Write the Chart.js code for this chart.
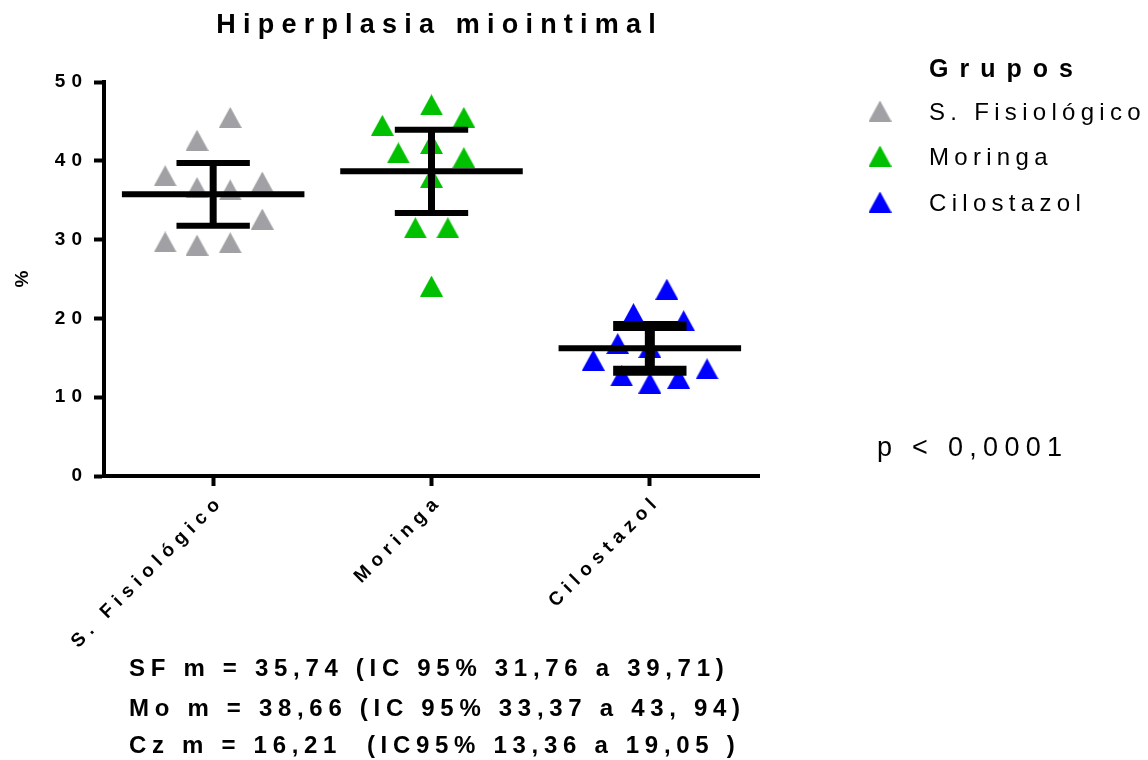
<!DOCTYPE html>
<html>
<head>
<meta charset="utf-8">
<script src="https://cdn.jsdelivr.net/npm/chart.js@4.4.1/dist/chart.umd.min.js"></script>
<style>
  body { margin: 0; background: #fff; }
  #wrap { width: 1148px; height: 760px; position: relative; }
</style>
</head>
<body>
<div id="wrap"><canvas id="hiperplasiaChart"></canvas></div>
<script>
const categories = ['S. Fisiológico', 'Moringa', 'Cilostazol'];

// horizontal jitter (in group widths) and value for each triangle
const sfOffsets = [0.078, -0.074, -0.22, -0.074, 0.078, 0.225, 0.225, -0.22, -0.074, 0.078];
const sfValues = [45.5, 42.6, 38.1, 36.6, 36.3, 37.3, 32.6, 29.7, 29.3, 29.6];
const moOffsets = [0, -0.225, 0.148, 0, -0.152, 0.148, 0, -0.074, 0.075, 0];
const moValues = [47.1, 44.5, 45.5, 42.2, 41.0, 40.4, 37.9, 31.5, 31.5, 24.1];
const czOffsets = [0.078, -0.075, 0.155, -0.147, 0, -0.259, -0.129, 0, 0.132, 0.262];
const czValues = [23.7, 20.6, 19.7, 16.8, 16.3, 14.7, 12.7, 11.8, 12.4, 13.6];

const means = [35.74, 38.66, 16.21];
const ciLow = [31.76, 33.37, 13.36];
const ciHigh = [39.71, 43.94, 19.05];

const yTicks = [0, 10, 20, 30, 40, 50];
const statLines = [
  'SF m = 35,74 (IC 95% 31,76 a 39,71)',
  'Mo m = 38,66 (IC 95% 33,37 a 43, 94)',
  'Cz m = 16,21  (IC95% 13,36 a 19,05 )'
];
const pText = 'p < 0,0001';

const FONT = "'Liberation Sans', Arial, sans-serif";
const colors = ['#a1a1a5', '#00c000', '#0000ff'];
const capWidths = [6, 6, 10];
const stemWidths = [7, 7, 10];

function makeTriangle(color) {
  const c = document.createElement('canvas');
  c.width = 23;
  c.height = 21;
  const g = c.getContext('2d');
  g.fillStyle = color;
  g.beginPath();
  g.moveTo(11.5, 0);
  g.lineTo(23, 21);
  g.lineTo(0, 21);
  g.closePath();
  g.fill();
  return c;
}
const triangles = colors.map(makeTriangle);

const groups = [
  { offsets: sfOffsets, values: sfValues },
  { offsets: moOffsets, values: moValues },
  { offsets: czOffsets, values: czValues }
];

const datasets = [];

// mean line + 95% CI bars, drawn on top of the points
groups.forEach((grp, i) => {
  const seg = (pts, w) => datasets.push({
    type: 'line', data: pts, borderColor: '#000', borderWidth: w,
    pointRadius: 0, borderCapStyle: 'butt', fill: false, order: 0, clip: false
  });
  seg([{ x: i - 0.418, y: means[i] }, { x: i + 0.418, y: means[i] }], 6);
  seg([{ x: i, y: ciLow[i] }, { x: i, y: ciHigh[i] }], stemWidths[i]);
  seg([{ x: i - 0.168, y: ciLow[i] }, { x: i + 0.168, y: ciLow[i] }], capWidths[i]);
  seg([{ x: i - 0.168, y: ciHigh[i] }, { x: i + 0.168, y: ciHigh[i] }], capWidths[i]);
});

groups.forEach((grp, i) => {
  datasets.push({
    type: 'scatter',
    label: categories[i],
    data: grp.values.map((v, k) => ({ x: i + grp.offsets[k], y: v })),
    pointStyle: triangles[i],
    pointRadius: 11,
    backgroundColor: colors[i],
    order: 1,
    clip: false
  });
});

function spacedText(ctx, text, x, y, spacing, align) {
  ctx.textAlign = 'left';
  if ('letterSpacing' in ctx) {
    ctx.letterSpacing = spacing + 'px';
    const w = ctx.measureText(text).width - spacing;
    const sx = align === 'center' ? x - w / 2 : align === 'right' ? x - w : x;
    ctx.fillText(text, sx, y);
    ctx.letterSpacing = '0px';
  } else {
    let w = 0;
    for (const ch of text) w += ctx.measureText(ch).width + spacing;
    w -= spacing;
    let sx = align === 'center' ? x - w / 2 : align === 'right' ? x - w : x;
    for (const ch of text) {
      ctx.fillText(ch, sx, y);
      sx += ctx.measureText(ch).width + spacing;
    }
  }
}

// tick labels of the reference are letter-spaced, so wrap each scale's label drawing
function spacedLabels(spacing) {
  return s => {
    if (s._spaced) return;
    const orig = s.drawLabels.bind(s);
    s.drawLabels = area => {
      s.ctx.save();
      s.ctx.letterSpacing = spacing + 'px';
      orig(area);
      s.ctx.restore();
    };
    s._spaced = true;
  };
}

const textPlugin = {
  id: 'extraText',
  afterDraw(chart) {
    const ctx = chart.ctx;
    ctx.save();
    ctx.fillStyle = '#000';
    ctx.textBaseline = 'middle';

    // title
    ctx.font = 'bold 27px ' + FONT;
    spacedText(ctx, 'Hiperplasia miointimal', 436, 26, 7.2, 'center');

    // legend
    ctx.font = 'bold 25px ' + FONT;
    spacedText(ctx, 'Grupos', 929, 70, 11, 'left');
    ctx.font = '24px ' + FONT;
    const rows = [111, 156, 202];
    categories.forEach((name, i) => {
      ctx.drawImage(triangles[i], 880 - 11.5, rows[i] - 10.5);
      spacedText(ctx, name, 929, rows[i] + 2, 5.3, 'left');
    });

    // p value
    ctx.font = '27px ' + FONT;
    spacedText(ctx, pText, 877, 449, 6.3, 'left');

    // summary lines
    ctx.font = 'bold 24px ' + FONT;
    const ys = [669, 709, 746];
    statLines.forEach((t, i) => spacedText(ctx, t, 129, ys[i], 5.7, 'left'));
    ctx.restore();
  }
};

const ctx = document.getElementById('hiperplasiaChart').getContext('2d');
new Chart(ctx, {
  data: { datasets: datasets },
  options: {
    responsive: true,
    maintainAspectRatio: false,
    animation: false,
    layout: { padding: { top: 82, right: 389, bottom: 0, left: 0 } },
    plugins: {
      legend: { display: false },
      title: { display: false },
      tooltip: { enabled: false }
    },
    scales: {
      x: {
        type: 'linear',
        min: -0.5,
        max: 2.5,
        afterBuildTicks: s => { s.ticks = categories.map((_, i) => ({ value: i })); },
        afterFit: s => { s.height = 284; },
        afterUpdate: spacedLabels(6),
        grid: { drawOnChartArea: false, tickLength: 10, tickWidth: 4, tickColor: '#000' },
        border: { display: true, color: '#000', width: 4 },
        ticks: {
          callback: v => categories[v],
          minRotation: 45,
          maxRotation: 45,
          autoSkip: false,
          color: '#000',
          padding: 4,
          labelOffset: 8,
          font: { family: FONT, size: 19, weight: 'bold' }
        }
      },
      y: {
        min: 0,
        max: 50,
        afterBuildTicks: s => { s.ticks = yTicks.map(v => ({ value: v })); },
        afterFit: s => { s.width = 104; },
        afterUpdate: spacedLabels(6),
        grid: { drawOnChartArea: false, tickLength: 10, tickWidth: 4, tickColor: '#000' },
        border: { display: true, color: '#000', width: 4 },
        title: {
          display: true,
          text: '%',
          color: '#000',
          padding: { top: 11, bottom: 0 },
          font: { family: FONT, size: 19, weight: 'bold' }
        },
        ticks: {
          color: '#000',
          padding: 6,
          font: { family: FONT, size: 19, weight: 'bold' }
        }
      }
    }
  },
  plugins: [textPlugin]
});
</script>
</body>
</html>
